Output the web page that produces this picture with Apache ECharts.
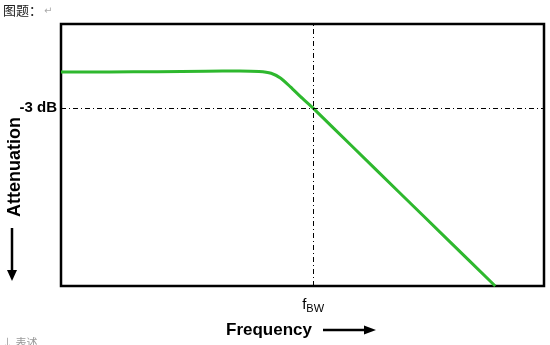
<!DOCTYPE html>
<html>
<head>
<meta charset="utf-8">
<script src="https://cdn.jsdelivr.net/npm/echarts@6/dist/echarts.min.js"></script>
<style>html,body{margin:0;padding:0;background:#fff;}#c{width:550px;height:345px;}</style>
</head>
<body>
<div id="c"></div>
<script>
// Normalized frequency (0-100) and attenuation level (0-100)
var freq  = [0,    10,   20,   30,   37,   41,   43.5, 45.5, 47.5, 50,   52.2, 60,   70,   80,   89.9];
var level = [81.7, 81.7, 81.8, 82.0, 82.1, 81.9, 81.2, 79.3, 76.0, 71.6, 67.9, 53.8, 35.8, 17.8, 0];
var cutoffFreq = 52.2;   // f_BW
var minus3dB = 67.9;     // -3 dB level
var cutoffLabel = 'f';
var cutoffSub = 'BW';
var levelLabel = '-3 dB';

var pts = freq.map(function (f, i) { return [f, level[i]]; });

var chart = echarts.init(document.getElementById('c'), null, {renderer: 'canvas'});
chart.setOption({
  animation: false,
  backgroundColor: '#fff',
  grid: {left: 61, top: 24, right: 6, bottom: 59, show: true, borderColor: '#000', borderWidth: 2.5, backgroundColor: '#fff'},
  xAxis: {type: 'value', min: 0, max: 100, axisLine: {show: false}, axisTick: {show: false}, axisLabel: {show: false}, splitLine: {show: false}},
  yAxis: {type: 'value', min: 0, max: 100, axisLine: {show: false}, axisTick: {show: false}, axisLabel: {show: false}, splitLine: {show: false}},
  series: [{
    type: 'line',
    data: pts,
    smooth: 0.2,
    showSymbol: false,
    lineStyle: {color: '#2eb82e', width: 3},
    markLine: {
      silent: true,
      symbol: 'none',
      lineStyle: {color: '#000', width: 1, type: [5, 3, 1, 3]},
      data: [
        {xAxis: cutoffFreq, label: {show: true, position: 'start', distance: 10, formatter: '{f|' + cutoffLabel + '}{s|' + cutoffSub + '}', rich: {f: {fontFamily: 'Liberation Sans', fontSize: 15, color: '#000'}, s: {fontFamily: 'Liberation Sans', fontSize: 11, color: '#000', verticalAlign: 'bottom', padding: [7, 0, 0, 0]}}}},
        {yAxis: minus3dB, label: {show: true, position: 'start', distance: 4, formatter: levelLabel, fontFamily: 'Liberation Sans', fontWeight: 'bold', fontSize: 15, color: '#000'}}
      ]
    }
  }],
  graphic: [
    {type: 'text', left: 3, top: 4, style: {text: '图题：', font: '13px "Noto Sans CJK SC"', fill: '#222'}},
    {type: 'text', left: 44, top: 6, style: {text: '↵', font: '10px "DejaVu Sans"', fill: '#aaa'}},
    {type: 'text', x: 15, y: 167, rotation: Math.PI / 2, style: {text: 'Attenuation', font: 'bold 18px "Liberation Sans"', fill: '#000', align: 'center', verticalAlign: 'middle'}},
    {type: 'line', shape: {x1: 12, y1: 228, x2: 12, y2: 272}, style: {stroke: '#000', lineWidth: 2.5}},
    {type: 'polygon', shape: {points: [[7, 270], [17, 270], [12, 281]]}, style: {fill: '#000'}},
    {type: 'text', x: 269, y: 330, style: {text: 'Frequency', font: 'bold 17px "Liberation Sans"', fill: '#000', align: 'center', verticalAlign: 'middle'}},
    {type: 'line', shape: {x1: 323, y1: 330, x2: 366, y2: 330}, style: {stroke: '#000', lineWidth: 2.5}},
    {type: 'polygon', shape: {points: [[364, 325.5], [364, 334.5], [376, 330]]}, style: {fill: '#000'}},
    {type: 'text', left: 2, top: 337, style: {text: '↓ 表述', font: '11px "Noto Sans CJK SC"', fill: '#999'}}
  ]
});
</script>
</body>
</html>
